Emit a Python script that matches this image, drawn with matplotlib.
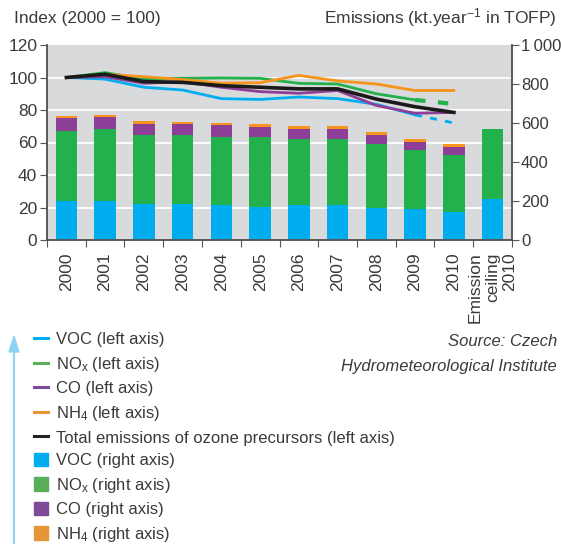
import numpy as np
import matplotlib.pyplot as plt
from matplotlib.lines import Line2D
from matplotlib.patches import Patch

plt.rcParams['font.family'] = ['Liberation Sans', 'DejaVu Sans']
plt.rcParams['mathtext.fontset'] = 'custom'
plt.rcParams['mathtext.rm'] = 'Liberation Sans'
plt.rcParams['mathtext.it'] = 'Liberation Sans:italic'

TEXT = '#3a3a3a'
SPINE = '#555555'
BG = '#d9dadc'
C_VOC = '#00aeef'
C_NOX = '#22b14c'
C_CO = '#8d3f97'
C_NH4 = '#f7941d'
C_TOT = '#1a1a1a'

CATEGORIES = ['2000', '2001', '2002', '2003', '2004', '2005', '2006', '2007',
              '2008', '2009', '2010', 'Emission\nceiling\n2010']
YEARS = CATEGORIES[:11]

# emissions, kt per year in TOFP (right axis)
VOC_KT = [198, 198, 186, 186, 179, 167, 179, 179, 162, 157, 145, 209]
NOX_KT = [361, 369, 352, 352, 347, 359, 339, 339, 328, 305, 291, 358]
CO_KT = [67, 64, 58, 58, 64, 52, 49, 49, 47, 39, 43, 0]
NH4_KT = [10, 10, 16, 11, 12, 19, 18, 18, 19, 19, 12, 0]

# index, 2000 = 100 (left axis)
VOC_IDX = [100, 99, 94, 92.3, 87, 86.5, 88, 87, 83.5, 77, 72]
NOX_IDX = [100, 103, 99, 99.5, 99.7, 99.5, 96.4, 96, 90, 86.2, 83.7]
CO_IDX = [100, 100.5, 96.4, 97.5, 94, 91.3, 90.3, 92, 82.8, 78, 78.5]
NH4_IDX = [100, 102, 100.5, 98.7, 96.5, 96.8, 101.3, 97.9, 96, 92, 92]
TOT_IDX = [100, 102, 97.5, 97, 95, 94, 93, 93, 86.7, 82, 78.5]

L_MAX = 120
R_MAX = 1000
L_TICKS = [0, 20, 40, 60, 80, 100, 120]
R_TICKS = [0, 200, 400, 600, 800, 1000]

fig = plt.figure(figsize=(5.61, 5.48), dpi=100)
ax = fig.add_axes([47 / 561, 1 - 240 / 548, 465 / 561, 195 / 548])
ax.set_facecolor(BG)
al = ax.twinx()
x = np.arange(len(CATEGORIES))
xy = np.arange(len(YEARS))

# white grid on the left-axis values, behind the bars
for v in L_TICKS[1:-1]:
    ax.axhline(v * R_MAX / L_MAX, color='white', lw=1.3, zorder=0.5)

w = 0.55
b1 = np.array(VOC_KT)
b2 = b1 + np.array(NOX_KT)
b3 = b2 + np.array(CO_KT)
ax.bar(x, VOC_KT, w, color=C_VOC, zorder=2)
ax.bar(x, NOX_KT, w, bottom=b1, color=C_NOX, zorder=2)
ax.bar(x, CO_KT, w, bottom=b2, color=C_CO, zorder=2)
ax.bar(x, NH4_KT, w, bottom=b3, color=C_NH4, zorder=2)

ax.set_xlim(-0.5, len(CATEGORIES) - 0.5)
ax.set_ylim(0, R_MAX)
ax.yaxis.tick_right()
ax.set_yticks(R_TICKS)
ax.set_yticklabels(['{:,}'.format(t).replace(',', '\u2009') for t in R_TICKS])
ax.set_xticks(np.arange(len(CATEGORIES) + 1) - 0.5)
ax.set_xticklabels([])
ax.set_xticks(x, minor=True)
ax.set_xticklabels(CATEGORIES, minor=True, rotation=90, va='top',
                   ha='center', multialignment='right')
ax.tick_params(axis='x', which='major', length=5, color=SPINE, direction='out')
ax.tick_params(axis='x', which='minor', length=0, pad=9, labelsize=12.5,
               labelcolor=TEXT)
ax.tick_params(axis='y', length=5, color=SPINE, labelsize=12,
               labelcolor=TEXT, pad=1.5)

# lines on the left axis
al.yaxis.tick_left()
al.yaxis.set_label_position('left')
al.set_ylim(0, L_MAX)
al.set_yticks(L_TICKS)
al.tick_params(axis='y', length=5, color=SPINE, labelsize=12.5,
               labelcolor=TEXT, pad=2)
lw = 2.0
al.plot(xy[:10], VOC_IDX[:10], color=C_VOC, lw=lw)
al.plot(xy[9:], VOC_IDX[9:], color=C_VOC, lw=lw, ls=(0, (2.5, 3)))
al.plot(xy[:10], NOX_IDX[:10], color=C_NOX, lw=lw)
al.plot(xy[9:], NOX_IDX[9:], color=C_NOX, lw=lw + 1, ls=(0, (2.5, 3)))
al.plot(xy, CO_IDX, color=C_CO, lw=lw)
al.plot(xy, NH4_IDX, color=C_NH4, lw=lw)
al.plot(xy, TOT_IDX, color=C_TOT, lw=2.6)

for a in (ax, al):
    a.spines['top'].set_visible(False)
    for s in ('left', 'right', 'bottom'):
        a.spines[s].set_color(SPINE)
        a.spines[s].set_linewidth(1.1)

fig.text(14 / 561, 1 - 18 / 548, 'Index (2000 = 100)', fontsize=12.5,
         color=TEXT, ha='left', va='center')
fig.text(557 / 561, 1 - 18 / 548, 'Emissions (kt.year$^{-1}$ in TOFP)',
         fontsize=12.5, color=TEXT, ha='right', va='center')

fig.text(557 / 561, 1 - 341 / 548, 'Source: Czech', fontsize=12,
         style='italic', color=TEXT, ha='right', va='center')
fig.text(557 / 561, 1 - 366 / 548, 'Hydrometeorological Institute',
         fontsize=12, style='italic', color=TEXT, ha='right', va='center')

handles = [
    Line2D([], [], color=C_VOC, lw=2.2),
    Line2D([], [], color='#5aae5a', lw=2.2),
    Line2D([], [], color='#7f4a97', lw=2.2),
    Line2D([], [], color='#e8953a', lw=2.2),
    Line2D([], [], color='#222222', lw=2.2),
    Patch(color=C_VOC),
    Patch(color='#5aae5a'),
    Patch(color='#7f4a97'),
    Patch(color='#e8953a'),
]
labels = [
    'VOC (left axis)',
    r'NO$_\mathrm{x}$ (left axis)',
    'CO (left axis)',
    r'NH$_\mathrm{4}$ (left axis)',
    'Total emissions of ozone precursors (left axis)',
    'VOC (right axis)',
    r'NO$_\mathrm{x}$ (right axis)',
    'CO (right axis)',
    r'NH$_\mathrm{4}$ (right axis)',
]
leg = fig.legend(handles, labels, loc='upper left',
                 bbox_to_anchor=(34 / 561, 1 - 332 / 548), frameon=False,
                 fontsize=12, handlelength=0.85, handleheight=0.85,
                 handletextpad=0.5, labelspacing=0.44, borderpad=0,
                 borderaxespad=0)
for t in leg.get_texts():
    t.set_color(TEXT)

fig.add_artist(plt.Line2D([14 / 561, 14 / 561], [1 - 543 / 548, 1 - 348 / 548],
                          color='#8ed4f2', lw=1.5))
fig.patches.append(plt.Polygon([[9 / 561, 1 - 352 / 548], [19 / 561, 1 - 352 / 548],
                                [14 / 561, 1 - 336 / 548]], closed=True,
                               color='#8ed4f2', transform=fig.transFigure,
                               figure=fig))

fig.savefig('out.png', dpi=100)
